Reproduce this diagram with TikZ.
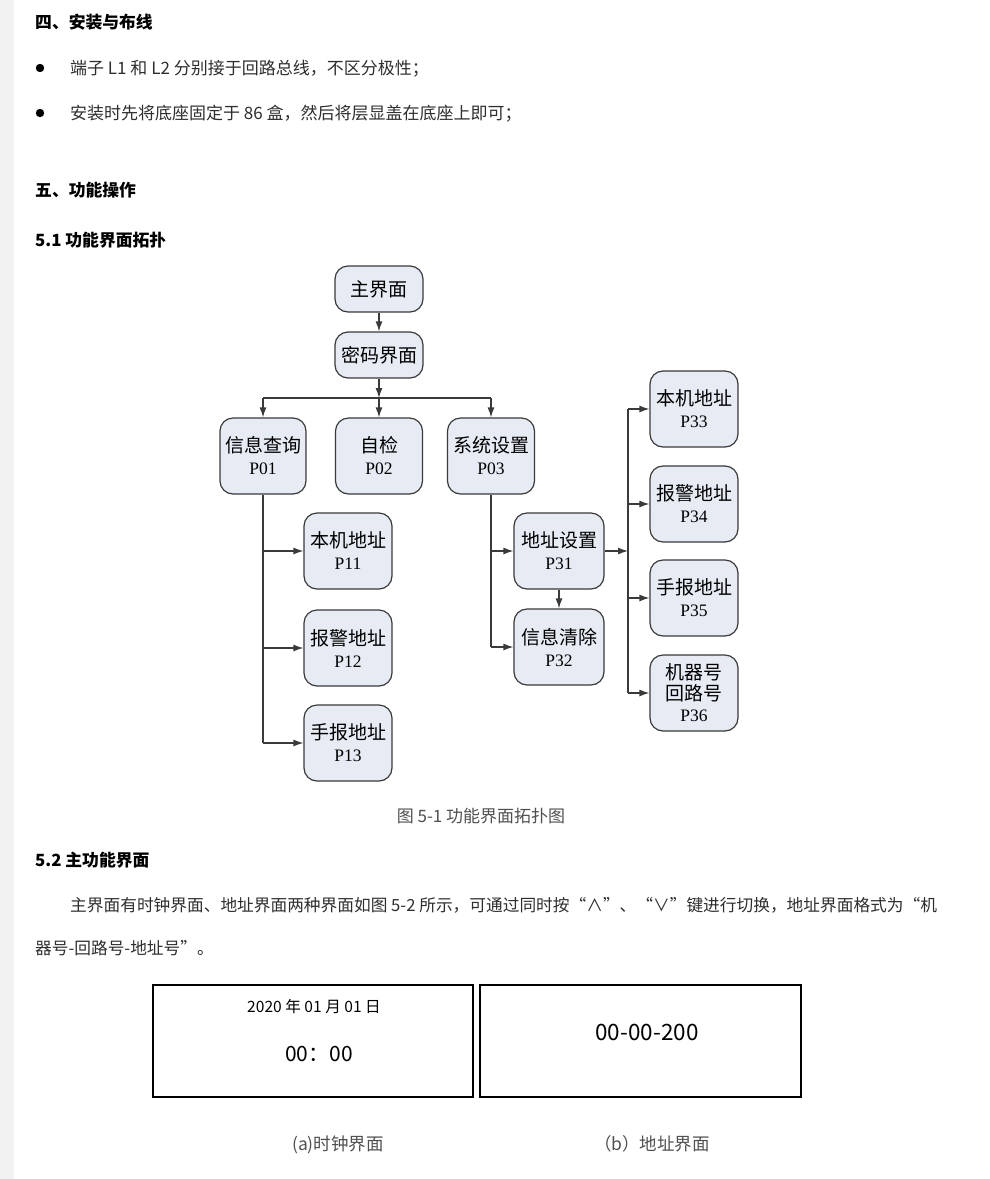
\documentclass[tikz,border=0pt]{standalone}
\usepackage{fontspec}
\setmainfont{Noto Sans CJK SC}
\newfontfamily\cjk{Noto Sans CJK SC}
\newfontfamily\lser{Liberation Serif}
\usetikzlibrary{arrows.meta}
\definecolor{linec}{HTML}{3A3A3A}
\definecolor{boxfill}{HTML}{E6EBF4}
\definecolor{bodyc}{HTML}{2E2E2E}
\definecolor{capc}{HTML}{505050}
\newcommand\lp[1]{{\fontsize{17.5}{21}\selectfont\lser #1}}
\tikzset{
  nbox/.style={draw=linec, fill=boxfill, rounded corners=13pt, line width=1.2pt,
    minimum width=88pt, minimum height=76pt, align=center, inner sep=2pt,
    font=\fontsize{19}{22}\selectfont},
  sbox/.style={nbox, minimum height=46pt},
  conn/.style={draw=linec, line width=1.2pt},
  arr/.style={conn, -{Latex[length=10pt,width=7pt]}},
  head/.style={anchor=base west, inner sep=0pt, font=\fontsize{16.8}{18}\selectfont\bfseries, text=black},
  body/.style={anchor=base west, inner sep=0pt, font=\fontsize{17}{18}\selectfont, text=bodyc},
  captxt/.style={anchor=base, inner sep=0pt, font=\fontsize{17}{18}\selectfont, text=capc},
  scr/.style={draw=black, line width=1.3pt},
}
\begin{document}
\begin{tikzpicture}[x=1pt,y=-1pt]
\useasboundingbox (0,0) rectangle (990,1179);
\fill[white] (0,0) rectangle (990,1179);
\fill[gray!10] (0,0) rectangle (14,1179);

% text section
\node[head] (h4) at (35,28) {四、安装与布线};
\fill[black] (40,68) circle (4.2pt);
\node[body] (l1) at (70,74) {端子 L1 和 L2 分别接于回路总线，不区分极性；};
\fill[black] (40,113) circle (4.2pt);
\node[body] (l2) at (70,119) {安装时先将底座固定于 86 盒，然后将层显盖在底座上即可；};
\node[head] (h5) at (35,196) {五、功能操作};
\node[head] (h51) at (35,246) {5.1 功能界面拓扑};

% diagram nodes
\node[sbox] (zhu) at (379,289) {主界面};
\node[sbox] (mima) at (379,355) {密码界面};
\node[nbox, minimum width=86pt] (p01) at (263,456) {信息查询\\\lp{P01}};
\node[nbox, minimum width=87pt] (p02) at (379,456) {自检\\\lp{P02}};
\node[nbox, minimum width=87pt] (p03) at (491,456) {系统设置\\\lp{P03}};
\node[nbox] (p11) at (348,551) {本机地址\\\lp{P11}};
\node[nbox] (p12) at (348,648) {报警地址\\\lp{P12}};
\node[nbox] (p13) at (348,743) {手报地址\\\lp{P13}};
\node[nbox, minimum width=90pt] (p31) at (559,551) {地址设置\\\lp{P31}};
\node[nbox, minimum width=90pt] (p32) at (559,647) {信息清除\\\lp{P32}};
\node[nbox] (p33) at (694,409) {本机地址\\\lp{P33}};
\node[nbox] (p34) at (694,504) {报警地址\\\lp{P34}};
\node[nbox] (p35) at (694,598) {手报地址\\\lp{P35}};
\node[nbox, font=\fontsize{19}{21}\selectfont] (p36) at (694,693) {机器号\\回路号\\\lp{P36}};

% coordinates
\coordinate (busL) at (263,398);
\coordinate (busM) at (379,398);
\coordinate (busR) at (491,398);
\coordinate (b11) at (263,551);
\coordinate (b12) at (263,648);
\coordinate (b13) at (263,743);
\coordinate (b31) at (491,551);
\coordinate (b32) at (491,647);
\coordinate (bm) at (628,551);
\coordinate (b33) at (628,409);
\coordinate (b34) at (628,504);
\coordinate (b35) at (628,598);
\coordinate (b36) at (628,693);

% connectors
\draw[arr] (zhu) -- (mima);
\draw[arr] (mima) -- (busM);
\draw[conn] (busL) -- (busR);
\draw[arr] (busL) -- (p01);
\draw[arr] (busM) -- (p02);
\draw[arr] (busR) -- (p03);
\draw[conn] (p01.south) -- (b13);
\draw[arr] (b11) -- (p11);
\draw[arr] (b12) -- (p12);
\draw[arr] (b13) -- (p13);
\draw[conn] (p03.south) -- (b32);
\draw[arr] (b31) -- (p31);
\draw[arr] (b32) -- (p32);
\draw[arr] (p31) -- (p32);
\draw[arr] (p31) -- (bm);
\draw[conn] (b33) -- (b36);
\draw[arr] (b33) -- (p33);
\draw[arr] (b34) -- (p34);
\draw[arr] (b35) -- (p35);
\draw[arr] (b36) -- (p36);

\node[captxt] (cap1) at (481,822) {图 5-1 功能界面拓扑图};

% section 5.2
\node[head] (h52) at (35,866) {5.2 主功能界面};
\node[body, font=\fontsize{16.7}{18}\selectfont] (p1) at (70,911) {主界面有时钟界面、地址界面两种界面如图 5-2 所示，可通过同时按“∧”、“∨”键进行切换，地址界面格式为“机};
\node[body, font=\fontsize{16.7}{18}\selectfont] (p2) at (35,954) {器号-回路号-地址号”。};

% screens
\draw[scr] (153,985) rectangle (473,1097);
\draw[scr] (480,985) rectangle (801,1097);
\node[anchor=base, inner sep=0pt, font=\fontsize{15.6}{17}\selectfont] (date) at (314,1012) {2020 年 01 月 01 日};
\node[anchor=base, inner sep=0pt, font=\fontsize{21}{24}\selectfont] (time) at (319,1061) {00：00};
\node[anchor=base, inner sep=0pt, font=\fontsize{22.5}{25}\selectfont] (addr) at (647,1040) {00-00-200};
\node[captxt, font=\fontsize{17.5}{18}\selectfont] (capa) at (338,1150) {(a)时钟界面};
\node[captxt, font=\fontsize{17.5}{18}\selectfont] (capb) at (652,1150) {（b）地址界面};
\end{tikzpicture}
\end{document}
